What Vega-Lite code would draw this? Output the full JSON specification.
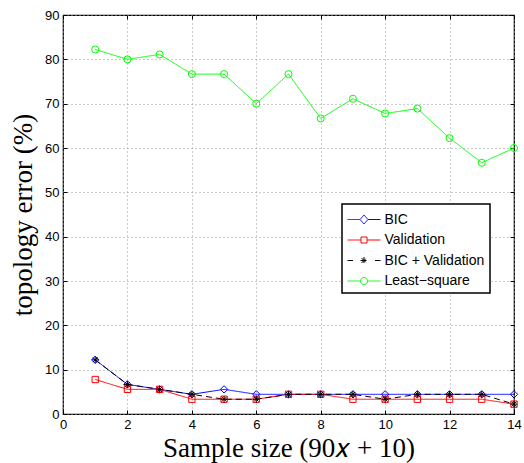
{
  "$schema": "https://vega.github.io/schema/vega-lite/v6.json",
  "width": 451,
  "height": 399,
  "autosize": {"type": "none"},
  "padding": {"left": 63, "top": 15, "right": 10, "bottom": 49},
  "background": "white",
  "config": {
    "view": {"stroke": "black", "strokeWidth": 1.2},
    "font": "Liberation Sans",
    "axis": {
      "domain": false,
      "grid": true,
      "gridColor": "#9a9a9a",
      "gridDash": [1, 3],
      "gridWidth": 1,
      "tickColor": "black",
      "tickSize": -4,
      "tickWidth": 1,
      "labelFont": "Liberation Sans",
      "labelFontSize": 13,
      "labelColor": "black",
      "titleFont": "Liberation Serif",
      "titleFontSize": 27,
      "titleFontWeight": "normal",
      "titleColor": "black"
    }
  },
  "data": {
    "values": [
      {"x": 1, "series": "BIC", "y": 12.22},
      {"x": 2, "series": "BIC", "y": 6.67},
      {"x": 3, "series": "BIC", "y": 5.56},
      {"x": 4, "series": "BIC", "y": 4.44},
      {"x": 5, "series": "BIC", "y": 5.56},
      {"x": 6, "series": "BIC", "y": 4.44},
      {"x": 7, "series": "BIC", "y": 4.44},
      {"x": 8, "series": "BIC", "y": 4.44},
      {"x": 9, "series": "BIC", "y": 4.44},
      {"x": 10, "series": "BIC", "y": 4.44},
      {"x": 11, "series": "BIC", "y": 4.44},
      {"x": 12, "series": "BIC", "y": 4.44},
      {"x": 13, "series": "BIC", "y": 4.44},
      {"x": 14, "series": "BIC", "y": 4.44},
      {"x": 1, "series": "Validation", "y": 7.78},
      {"x": 2, "series": "Validation", "y": 5.56},
      {"x": 3, "series": "Validation", "y": 5.56},
      {"x": 4, "series": "Validation", "y": 3.33},
      {"x": 5, "series": "Validation", "y": 3.33},
      {"x": 6, "series": "Validation", "y": 3.33},
      {"x": 7, "series": "Validation", "y": 4.44},
      {"x": 8, "series": "Validation", "y": 4.44},
      {"x": 9, "series": "Validation", "y": 3.33},
      {"x": 10, "series": "Validation", "y": 3.33},
      {"x": 11, "series": "Validation", "y": 3.33},
      {"x": 12, "series": "Validation", "y": 3.33},
      {"x": 13, "series": "Validation", "y": 3.33},
      {"x": 14, "series": "Validation", "y": 2.22},
      {"x": 1, "series": "BIC + Validation", "y": 12.22},
      {"x": 2, "series": "BIC + Validation", "y": 6.67},
      {"x": 3, "series": "BIC + Validation", "y": 5.56},
      {"x": 4, "series": "BIC + Validation", "y": 4.44},
      {"x": 5, "series": "BIC + Validation", "y": 3.33},
      {"x": 6, "series": "BIC + Validation", "y": 3.33},
      {"x": 7, "series": "BIC + Validation", "y": 4.44},
      {"x": 8, "series": "BIC + Validation", "y": 4.44},
      {"x": 9, "series": "BIC + Validation", "y": 4.44},
      {"x": 10, "series": "BIC + Validation", "y": 3.33},
      {"x": 11, "series": "BIC + Validation", "y": 4.44},
      {"x": 12, "series": "BIC + Validation", "y": 4.44},
      {"x": 13, "series": "BIC + Validation", "y": 4.44},
      {"x": 14, "series": "BIC + Validation", "y": 2.22},
      {"x": 1, "series": "Least\u2212square", "y": 82.22},
      {"x": 2, "series": "Least\u2212square", "y": 80.0},
      {"x": 3, "series": "Least\u2212square", "y": 81.11},
      {"x": 4, "series": "Least\u2212square", "y": 76.67},
      {"x": 5, "series": "Least\u2212square", "y": 76.67},
      {"x": 6, "series": "Least\u2212square", "y": 70.0},
      {"x": 7, "series": "Least\u2212square", "y": 76.67},
      {"x": 8, "series": "Least\u2212square", "y": 66.67},
      {"x": 9, "series": "Least\u2212square", "y": 71.11},
      {"x": 10, "series": "Least\u2212square", "y": 67.78},
      {"x": 11, "series": "Least\u2212square", "y": 68.89},
      {"x": 12, "series": "Least\u2212square", "y": 62.22},
      {"x": 13, "series": "Least\u2212square", "y": 56.67},
      {"x": 14, "series": "Least\u2212square", "y": 60.0}
    ]
  },
  "layer": [
    {
      "mark": {"type": "line", "strokeWidth": 1, "clip": false},
      "encoding": {
        "x": {
          "field": "x", "type": "quantitative",
          "scale": {"domain": [0, 14], "nice": false, "zero": false},
          "axis": {"orient": "bottom", "values": [0, 2, 4, 6, 8, 10, 12, 14], "title": "Sample size (90\ud835\udc65 + 10)", "labelPadding": 8, "titlePadding": 4, "labelFlush": false}
        },
        "y": {
          "field": "y", "type": "quantitative",
          "scale": {"domain": [0, 90], "nice": false},
          "axis": {"orient": "left", "values": [0, 10, 20, 30, 40, 50, 60, 70, 80, 90], "title": "topology error (%)", "labelPadding": 8, "titlePadding": 7, "labelFlush": false}
        },
        "color": {
          "field": "series", "type": "nominal",
          "scale": {"domain": ["BIC", "Validation", "BIC + Validation", "Least\u2212square"], "range": ["#0000ff", "#ff0000", "#000000", "#00ff00"]},
          "legend": {
            "title": null,
            "orient": "none",
            "legendX": 279,
            "legendY": 189,
            "padding": 5,
            "strokeColor": "black",
            "fillColor": "white",
            "symbolSize": 400,
            "symbolStrokeWidth": 1,
            "symbolOffset": 6.5,
            "labelOffset": 10,
            "labelFont": "Liberation Sans",
            "labelFontSize": 14,
            "labelColor": "black",
            "rowPadding": 2.5,
            "encode": {
              "legend": {"update": {"strokeWidth": {"value": 1.5}}},
              "symbols": {
                "update": {
                  "fill": {"value": "transparent"},
                  "strokeDash": {"value": [1, 0]},
                  "shape": {"signal": "datum.value === 'BIC' ? 'M-1.65,0H-0.4M0.4,0H1.65M0,-0.45L0.4,0L0,0.45L-0.4,0Z' : datum.value === 'Validation' ? 'M-1.65,0H-0.3M0.3,0H1.65M-0.3,-0.3H0.3V0.3H-0.3Z' : datum.value === 'BIC + Validation' ? 'M-1.65,0H-1.1M1.1,0H1.65M0,-0.35V0.35M-0.35,0H0.35M-0.25,-0.25L0.25,0.25M-0.25,0.25L0.25,-0.25' : 'M-1.65,0H-0.35M0.35,0H1.65M0.35,0A0.35,0.35,0,1,1,-0.35,0A0.35,0.35,0,1,1,0.35,0'"}
                }
              }
            }
          }
        },
        "strokeDash": {
          "field": "series", "type": "nominal",
          "scale": {"domain": ["BIC", "Validation", "BIC + Validation", "Least\u2212square"], "range": [[1, 0], [1, 0], [6, 4], [1, 0]]},
          "legend": null
        }
      }
    },
    {
      "transform": [{"filter": "datum.series === 'BIC'"}],
      "mark": {"type": "point", "shape": "diamond", "color": "#0000ff", "filled": false, "strokeWidth": 1, "size": 55, "opacity": 1, "clip": false},
      "encoding": {
        "x": {
          "field": "x", "type": "quantitative",
          "axis": {"orient": "top", "values": [0, 2, 4, 6, 8, 10, 12, 14], "labels": false, "title": null, "grid": false}
        },
        "y": {
          "field": "y", "type": "quantitative",
          "axis": {"orient": "right", "values": [0, 10, 20, 30, 40, 50, 60, 70, 80, 90], "labels": false, "title": null, "grid": false}
        }
      }
    },
    {
      "transform": [{"filter": "datum.series === 'Validation'"}],
      "mark": {"type": "point", "shape": "square", "color": "#ff0000", "filled": false, "strokeWidth": 1, "size": 40, "opacity": 1, "clip": false},
      "encoding": {
        "x": {"field": "x", "type": "quantitative", "axis": null},
        "y": {"field": "y", "type": "quantitative", "axis": null}
      }
    },
    {
      "transform": [{"filter": "datum.series === 'BIC + Validation'"}],
      "mark": {"type": "point", "shape": "M0,-1V1M-1,0H1M-0.7,-0.7L0.7,0.7M-0.7,0.7L0.7,-0.7", "color": "#000000", "filled": false, "strokeWidth": 1, "size": 45, "opacity": 1, "clip": false},
      "encoding": {
        "x": {"field": "x", "type": "quantitative", "axis": null},
        "y": {"field": "y", "type": "quantitative", "axis": null}
      }
    },
    {
      "transform": [{"filter": "datum.series === 'Least\u2212square'"}],
      "mark": {"type": "point", "shape": "circle", "color": "#00ff00", "filled": false, "strokeWidth": 1, "size": 50, "opacity": 1, "clip": false},
      "encoding": {
        "x": {"field": "x", "type": "quantitative", "axis": null},
        "y": {"field": "y", "type": "quantitative", "axis": null}
      }
    }
  ]
}
